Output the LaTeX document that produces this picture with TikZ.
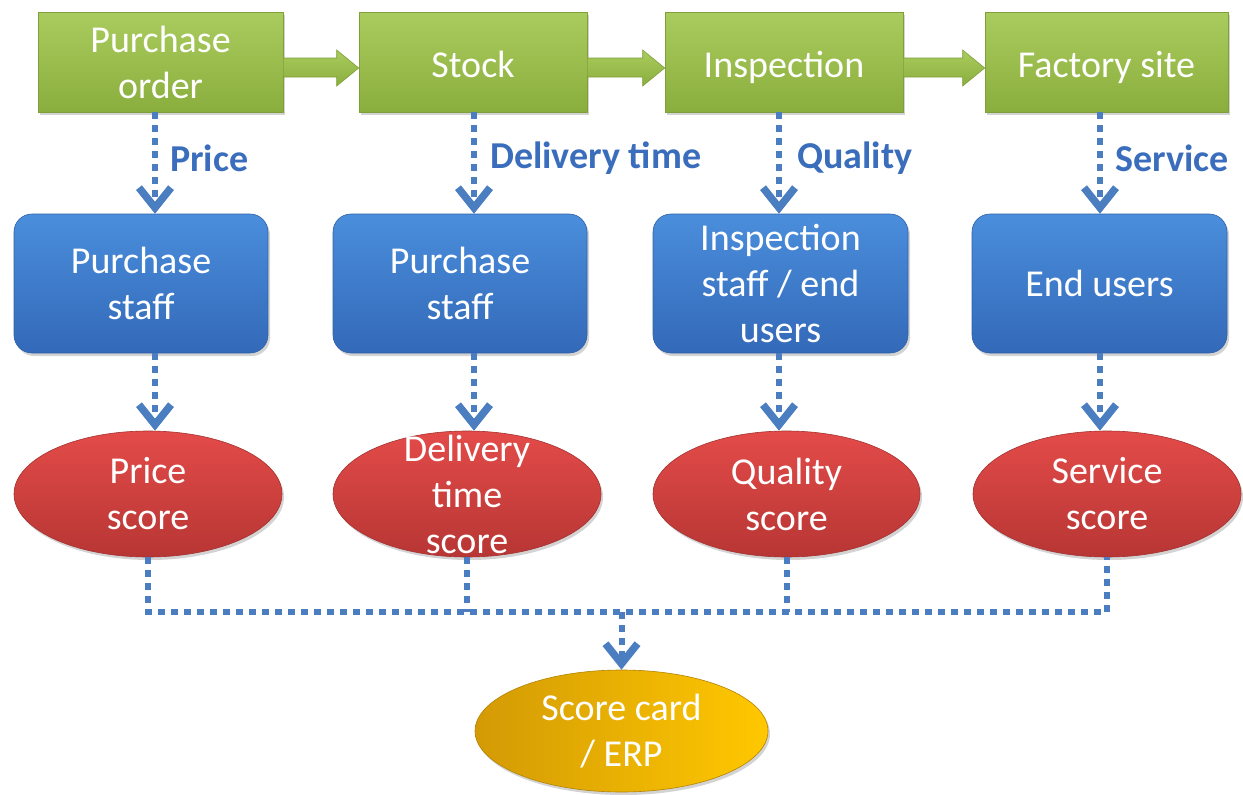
\documentclass[tikz,border=0pt]{standalone}
\usepackage{fontspec}
\setmainfont{Carlito}
\usetikzlibrary{shapes.geometric,arrows.meta,shadows,calc}
\definecolor{gtop}{HTML}{AACC5E}
\definecolor{gbot}{HTML}{8AAE3E}
\definecolor{gedge}{HTML}{7F9F3A}
\definecolor{btop}{HTML}{4A8EDC}
\definecolor{bbot}{HTML}{3369B8}
\definecolor{bedge}{HTML}{2F60A8}
\definecolor{rtop}{HTML}{E34B49}
\definecolor{rbot}{HTML}{B73634}
\definecolor{redge}{HTML}{A33230}
\definecolor{ytl}{HTML}{D39A05}
\definecolor{ybr}{HTML}{FFC800}
\definecolor{dotc}{HTML}{4A7EC0}
\definecolor{lblc}{HTML}{3A6DBB}
\newcommand\blkarrow[2]{%
  \path[top color=gtop,bottom color=gbot,draw=gedge,line width=0.6pt]
    ([yshift=4pt]#1.east) -- ([xshift=-22pt,yshift=4pt]#2.west)
    -- ([xshift=-22pt,yshift=12pt]#2.west) -- ([yshift=-6pt]#2.west)
    -- ([xshift=-22pt,yshift=-24pt]#2.west) -- ([xshift=-22pt,yshift=-15pt]#2.west)
    -- ([yshift=-15pt]#1.east) -- cycle;}
\begin{document}
\begin{tikzpicture}[x=1pt,y=-1pt,
  txt/.style={text=white,font=\fontsize{38}{46}\selectfont,align=center,inner sep=0pt},
  gbox/.style={txt,rectangle,top color=gtop,bottom color=gbot,draw=gedge,line width=0.6pt,
     minimum height=100pt,drop shadow={opacity=0.35,shadow xshift=2pt,shadow yshift=-3pt}},
  oneline/.style={text height=30pt,text depth=0pt},
  bbox/.style={txt,rectangle,rounded corners=18pt,top color=btop,bottom color=bbot,draw=bedge,line width=0.6pt,
     minimum height=139pt,minimum width=255pt,drop shadow={opacity=0.35,shadow xshift=2pt,shadow yshift=-3pt}},
  rell/.style={txt,ellipse,top color=rtop,bottom color=rbot,draw=redge,line width=0.6pt,
     minimum height=126pt,minimum width=268pt,drop shadow={opacity=0.35,shadow xshift=2pt,shadow yshift=-3pt}},
  yell/.style={txt,ellipse,left color=ytl,right color=ybr,draw=ytl!85!black,line width=0.6pt,
     minimum height=122pt,minimum width=293pt,drop shadow={opacity=0.35,shadow xshift=2pt,shadow yshift=-3pt}},
  dline/.style={draw=dotc,line width=6pt,dash pattern=on 7pt off 6pt},
  darr/.style={dline,-{Straight Barb[length=20pt,width=32pt,line width=7.5pt]}},
  lbl/.style={text=lblc,font=\fontsize{38}{44}\selectfont\bfseries,anchor=west,inner sep=0pt}
]
\useasboundingbox (0,0) rectangle (1243,795);
% top row
\node[gbox,minimum width=245pt] (g1) at (160.5,62) {Purchase\\order};
\node[gbox,oneline,minimum width=228pt] (g2) at (473,62) {Stock};
\node[gbox,oneline,minimum width=238pt] (g3) at (784,62) {Inspection};
\node[gbox,oneline,minimum width=243pt] (g4) at (1106.5,62) {Factory site};
\blkarrow{g1}{g2}
\blkarrow{g2}{g3}
\blkarrow{g3}{g4}
% middle row
\node[bbox,minimum width=254pt] (b1) at (141,283.5) {Purchase\\staff};
\node[bbox,minimum width=254pt] (b2) at (460,283.5) {Purchase\\staff};
\node[bbox] (b3) at (780.5,283.5) {Inspection\\staff / end\\users};
\node[bbox] (b4) at (1099.5,283.5) {End users};
% ellipses
\node[rell] (e1) at (148,494) {Price\\score};
\node[rell,label={[txt]center:{Delivery\\time\\score}}] (e2) at (467,494) {};
\node[rell,minimum width=267pt] (e3) at (786.5,494) {Quality\\score};
\node[rell] (e4) at (1107,494) {Service\\score};
\node[yell] (sc) at (621.5,731) {Score card\\/ ERP};
% column coordinates
\coordinate (c1) at (155,0);
\coordinate (c2) at (474,0);
\coordinate (c3) at (779,0);
\coordinate (c4) at (1100,0);
\coordinate (bus) at (621.5,612);
% dotted arrows
\draw[darr] (g1.south -| c1) -- (b1.north -| c1);
\draw[darr] (g2.south -| c2) -- (b2.north -| c2);
\draw[darr] (g3.south -| c3) -- (b3.north -| c3);
\draw[darr] (g4.south -| c4) -- (b4.north -| c4);
\draw[darr] (b1.south -| c1) -- (e1.north -| c1);
\draw[darr] (b2.south -| c2) -- (e2.north -| c2);
\draw[darr] (b3.south -| c3) -- (e3.north -| c3);
\draw[darr] (b4.south -| c4) -- (e4.north -| c4);
% labels
\node[lbl] (l1) at (170,158) {Price};
\node[lbl] (l2) at (490,158) {Delivery time};
\node[lbl] (l3) at (797,158) {Quality};
\node[lbl] (l4) at (1115,158) {Service};
% bus
\draw[dline] (e1.south) -- (e1.south |- bus) -- (e4.south |- bus) -- (e4.south);
\draw[dline] (e2.south) -- (e2.south |- bus);
\draw[dline] (e3.south) -- (e3.south |- bus);
\draw[darr] (bus) -- (sc.north);
\end{tikzpicture}
\end{document}
